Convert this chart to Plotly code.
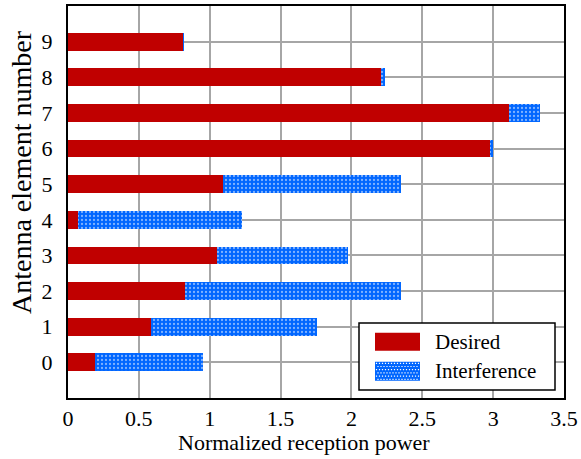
import plotly.graph_objects as go

elements = [0, 1, 2, 3, 4, 5, 6, 7, 8, 9]
desired = [0.192, 0.587, 0.824, 1.048, 0.068, 1.092, 2.975, 3.109, 2.212, 0.812]
interference = [0.764, 1.173, 1.527, 0.931, 1.163, 1.261, 0.026, 0.224, 0.028, 0.004]
x_ticks = [0, 0.5, 1, 1.5, 2, 2.5, 3, 3.5]
x_tick_labels = ["0", "0.5", "1", "1.5", "2", "2.5", "3", "3.5"]
series_names = ["Desired", "Interference"]
x_title = "Normalized reception power"
y_title = "Antenna element number"

FONT = "Liberation Serif, Times New Roman, serif"
RED = "#c00000"
BLUE = "#0066ff"

fig = go.Figure()
fig.add_trace(go.Bar(
    y=elements, x=desired, orientation="h", name=series_names[0],
    marker=dict(color=RED, line=dict(width=0)), width=0.5, showlegend=False,
))
fig.add_trace(go.Bar(
    y=elements, x=interference, orientation="h", name=series_names[1],
    marker=dict(color=BLUE, line=dict(width=0),
                pattern=dict(shape=".", fgcolor="#ffffff", bgcolor=BLUE,
                             size=4, solidity=0.25, fillmode="overlay")),
    width=0.5, showlegend=False,
))

# --- custom legend (paper coords; plot area is 496 x 392 px) ---
L, T, W, H = 68, 6, 496, 392
def px(x):
    return (x - L) / W
def py(y):
    return (T + H - y) / H

shapes = [
    dict(type="rect", xref="paper", yref="paper",
         x0=px(359), x1=px(555), y0=py(390), y1=py(323),
         line=dict(color="black", width=1.5), fillcolor="white", layer="above"),
    dict(type="rect", xref="paper", yref="paper",
         x0=px(375), x1=px(420), y0=py(350.7), y1=py(332.7),
         line=dict(width=0), fillcolor=RED, layer="above"),
    dict(type="rect", xref="paper", yref="paper",
         x0=px(375), x1=px(420), y0=py(380.7), y1=py(361.7),
         line=dict(width=0), fillcolor=BLUE, layer="above"),
]

# white dot texture for the patterned legend swatch
parts = []
for r in range(6):
    for c in range(15):
        cx = 375 + 1.5 + c * 3 + (1.5 if r % 2 else 0)
        cy = 361.7 + 1.6 + r * 3.2
        if cx + 0.6 > 420:
            continue
        x0, x1 = px(cx - 0.6), px(cx + 0.6)
        y0, y1 = py(cy - 0.6), py(cy + 0.6)
        parts.append(f"M{x0:.5f},{y0:.5f}L{x1:.5f},{y0:.5f}L{x1:.5f},{y1:.5f}L{x0:.5f},{y1:.5f}Z")
shapes.append(dict(type="path", xref="paper", yref="paper", path="".join(parts),
                   fillcolor="white", line=dict(width=0), layer="above"))

annotations = [
    dict(text=series_names[0], xref="paper", yref="paper", x=px(433), y=py(341.5),
         xanchor="left", yanchor="middle", showarrow=False,
         font=dict(family=FONT, size=21, color="black")),
    dict(text=series_names[1], xref="paper", yref="paper", x=px(433), y=py(371),
         xanchor="left", yanchor="middle", showarrow=False,
         font=dict(family=FONT, size=21, color="black")),
    dict(text=x_title, xref="paper", yref="paper", x=px(304), y=py(442),
         xanchor="center", yanchor="middle", showarrow=False,
         font=dict(family=FONT, size=22, color="black")),
    dict(text=y_title, xref="paper", yref="paper", x=px(21), y=py(172),
         xanchor="center", yanchor="middle", showarrow=False, textangle=-90,
         font=dict(family=FONT, size=28, color="black")),
]

fig.update_layout(
    barmode="stack",
    width=581, height=459,
    margin=dict(l=68, r=17, t=6, b=61),
    paper_bgcolor="white", plot_bgcolor="white",
    font=dict(family=FONT, size=22, color="black"),
    showlegend=False,
    shapes=shapes, annotations=annotations,
)
fig.update_xaxes(
    range=[0, 3.5], tickvals=x_ticks, ticktext=x_tick_labels,
    showgrid=True, gridcolor="#a6a6a6", gridwidth=1.5,
    showline=True, linecolor="black", linewidth=2, mirror=True,
    ticks="", zeroline=False, automargin=False,
)
fig.update_yaxes(
    range=[-1, 10], tickvals=elements,
    showgrid=True, gridcolor="#a6a6a6", gridwidth=1.5,
    showline=True, linecolor="black", linewidth=2, mirror=True,
    ticks="", zeroline=False, automargin=False, ticklabelstandoff=9,
)

fig.write_html("out.html", post_script="document.body.style.margin='0';",
               config={"displayModeBar": False})
